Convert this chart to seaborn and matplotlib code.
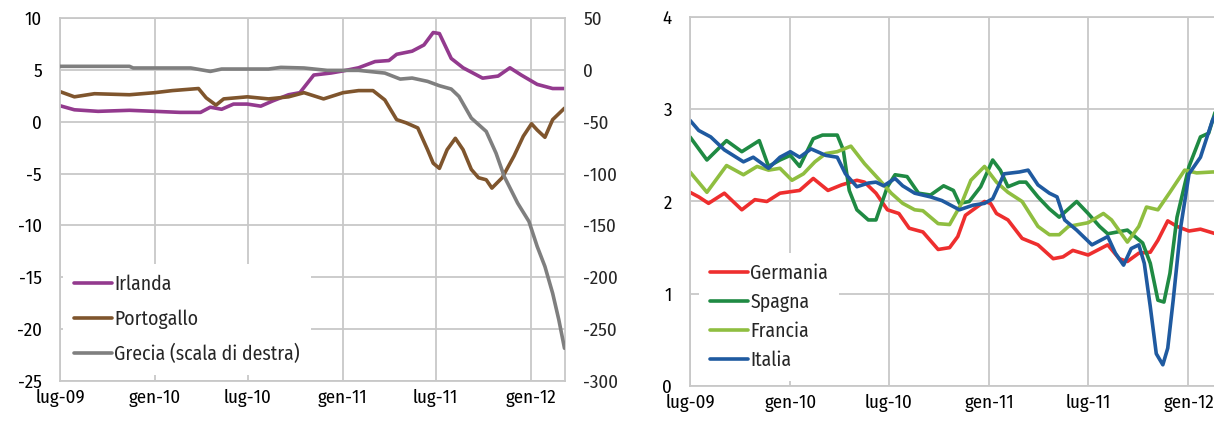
import pandas as pd
import matplotlib
matplotlib.use("Agg")
import matplotlib.pyplot as plt
import seaborn as sns
from matplotlib import font_manager

# ---- data ----
irlanda_dates = ["2009-07-01", "2009-07-29", "2009-09-13", "2009-11-13", "2010-01-01", "2010-02-19",
                 "2010-03-31", "2010-04-19", "2010-05-11", "2010-06-03", "2010-06-30", "2010-07-26",
                 "2010-08-18", "2010-09-18", "2010-10-10", "2010-11-06", "2010-12-10", "2011-01-02",
                 "2011-02-01", "2011-03-05", "2011-04-01", "2011-04-16", "2011-05-16", "2011-06-08",
                 "2011-06-26", "2011-07-08", "2011-07-31", "2011-08-23", "2011-09-30", "2011-10-30",
                 "2011-11-22", "2011-12-14", "2012-01-14", "2012-02-13", "2012-03-07"]
irlanda = [1.54, 1.15, 1.0, 1.1, 1.0, 0.9, 0.9, 1.4, 1.2, 1.7, 1.7, 1.5, 2.0, 2.6, 2.8, 4.5, 4.7, 4.9,
           5.2, 5.8, 5.9, 6.5, 6.8, 7.4, 8.6, 8.5, 6.1, 5.2, 4.2, 4.4, 5.2, 4.5, 3.6, 3.2, 3.2]

portogallo_dates = ["2009-07-01", "2009-07-29", "2009-09-06", "2009-11-13", "2010-01-01", "2010-02-04",
                    "2010-03-27", "2010-04-11", "2010-04-30", "2010-05-15", "2010-06-30", "2010-08-10",
                    "2010-09-18", "2010-10-18", "2010-11-25", "2011-01-02", "2011-02-01", "2011-03-01",
                    "2011-03-24", "2011-04-16", "2011-05-04", "2011-05-27", "2011-06-15", "2011-06-26",
                    "2011-07-08", "2011-07-23", "2011-08-08", "2011-08-23", "2011-09-08", "2011-09-22",
                    "2011-10-07", "2011-10-18", "2011-11-07", "2011-11-30", "2011-12-18", "2012-01-03",
                    "2012-01-14", "2012-01-29", "2012-02-13", "2012-03-07"]
portogallo = [2.9, 2.4, 2.7, 2.6, 2.8, 3.0, 3.2, 2.3, 1.6, 2.2, 2.4, 2.2, 2.4, 2.8, 2.2, 2.8, 3.0, 3.0,
              2.1, 0.2, -0.1, -0.6, -2.7, -4.0, -4.5, -2.7, -1.6, -2.7, -4.6, -5.4, -5.6, -6.4, -5.4,
              -3.3, -1.4, -0.2, -0.8, -1.5, 0.2, 1.3]

grecia_dates = ["2009-07-01", "2009-11-13", "2009-11-20", "2010-03-12", "2010-04-19", "2010-05-11",
                "2010-08-10", "2010-09-03", "2010-10-18", "2010-12-02", "2011-02-01", "2011-03-24",
                "2011-04-23", "2011-05-16", "2011-06-15", "2011-07-08", "2011-07-31", "2011-08-15",
                "2011-09-08", "2011-10-07", "2011-10-26", "2011-11-11", "2011-12-07", "2011-12-29",
                "2012-01-14", "2012-01-29", "2012-02-13", "2012-02-25", "2012-03-07"]
grecia = [3.4, 3.4, 1.8, 1.8, -1.5, 0.8, 0.8, 2.4, 1.8, -0.5, -0.5, -3.1, -8.9, -7.9, -11.1, -15.3,
          -18.5, -25.6, -46.5, -59.4, -80.3, -102.8, -128.5, -146.2, -170.3, -189.6, -215.4, -241.0,
          -268.4]

germania_dates = ["2009-07-01", "2009-07-17", "2009-08-04", "2009-09-02", "2009-10-04", "2009-10-28",
                  "2009-11-19", "2009-12-13", "2010-01-18", "2010-02-12", "2010-03-11", "2010-04-05",
                  "2010-05-03", "2010-05-17", "2010-06-07", "2010-06-28", "2010-07-19", "2010-08-07",
                  "2010-09-01", "2010-09-29", "2010-10-20", "2010-11-04", "2010-11-18", "2010-12-09",
                  "2010-12-23", "2011-01-03", "2011-01-14", "2011-02-04", "2011-03-02", "2011-03-31",
                  "2011-04-28", "2011-05-16", "2011-06-03", "2011-07-01", "2011-08-06", "2011-08-27",
                  "2011-09-11", "2011-10-02", "2011-10-23", "2011-11-06", "2011-11-24", "2011-12-11",
                  "2012-01-02", "2012-01-23", "2012-02-20", "2012-03-07"]
germania = [2.10, 2.05, 1.98, 2.09, 1.91, 2.02, 2.00, 2.09, 2.12, 2.25, 2.12, 2.18, 2.23, 2.21, 2.09,
            1.91, 1.87, 1.71, 1.67, 1.48, 1.50, 1.62, 1.85, 1.94, 2.00, 1.98, 1.87, 1.80, 1.60, 1.53,
            1.38, 1.40, 1.47, 1.42, 1.53, 1.38, 1.35, 1.44, 1.45, 1.58, 1.79, 1.73, 1.68, 1.70, 1.65,
            1.64]

spagna_dates = ["2009-07-01", "2009-08-01", "2009-09-06", "2009-10-04", "2009-11-05", "2009-11-22",
                "2009-12-13", "2010-01-01", "2010-01-18", "2010-02-12", "2010-03-01", "2010-03-28",
                "2010-04-08", "2010-04-19", "2010-05-03", "2010-05-24", "2010-06-07", "2010-06-28",
                "2010-07-12", "2010-08-03", "2010-08-24", "2010-09-15", "2010-10-09", "2010-10-27",
                "2010-11-07", "2010-11-25", "2010-12-16", "2011-01-07", "2011-01-21", "2011-02-04",
                "2011-02-25", "2011-03-09", "2011-03-31", "2011-04-21", "2011-05-09", "2011-06-10",
                "2011-07-01", "2011-07-22", "2011-08-06", "2011-09-11", "2011-10-09", "2011-10-23",
                "2011-11-06", "2011-11-17", "2011-11-28", "2011-12-11", "2012-01-02", "2012-01-23",
                "2012-02-07", "2012-02-20", "2012-03-07"]
spagna = [2.70, 2.45, 2.66, 2.54, 2.66, 2.38, 2.45, 2.50, 2.38, 2.68, 2.72, 2.72, 2.56, 2.12, 1.91,
          1.80, 1.80, 2.16, 2.29, 2.27, 2.09, 2.07, 2.17, 2.12, 1.98, 2.00, 2.16, 2.45, 2.34, 2.16,
          2.21, 2.21, 2.05, 1.92, 1.83, 2.00, 1.87, 1.73, 1.65, 1.69, 1.55, 1.33, 0.93, 0.91, 1.22,
          1.83, 2.38, 2.70, 2.74, 2.99, 3.2]

francia_dates = ["2009-07-01", "2009-08-01", "2009-09-06", "2009-10-07", "2009-11-01", "2009-11-22",
                 "2009-12-13", "2010-01-04", "2010-01-25", "2010-02-15", "2010-03-07", "2010-03-28",
                 "2010-04-22", "2010-05-17", "2010-06-14", "2010-07-05", "2010-07-26", "2010-08-17",
                 "2010-09-01", "2010-09-29", "2010-10-20", "2010-11-11", "2010-11-28", "2010-12-23",
                 "2011-01-14", "2011-02-04", "2011-03-02", "2011-03-31", "2011-04-21", "2011-05-09",
                 "2011-05-26", "2011-07-01", "2011-07-29", "2011-08-13", "2011-09-11", "2011-10-02",
                 "2011-10-16", "2011-11-06", "2011-11-28", "2011-12-25", "2012-01-16", "2012-02-14",
                 "2012-03-07"]
francia = [2.32, 2.10, 2.39, 2.29, 2.38, 2.34, 2.36, 2.23, 2.30, 2.43, 2.52, 2.54, 2.60, 2.41, 2.23,
           2.09, 1.98, 1.91, 1.90, 1.76, 1.75, 1.98, 2.23, 2.38, 2.21, 2.10, 2.00, 1.73, 1.64, 1.64,
           1.73, 1.77, 1.87, 1.80, 1.56, 1.73, 1.94, 1.91, 2.10, 2.34, 2.31, 2.32, 2.32]

italia_dates = ["2009-07-01", "2009-07-17", "2009-08-08", "2009-09-02", "2009-10-07", "2009-10-25",
                "2009-11-22", "2009-12-13", "2010-01-01", "2010-01-18", "2010-02-08", "2010-03-07",
                "2010-03-28", "2010-04-12", "2010-05-03", "2010-05-24", "2010-06-07", "2010-06-21",
                "2010-07-12", "2010-07-26", "2010-08-17", "2010-09-15", "2010-10-06", "2010-11-07",
                "2010-12-02", "2010-12-23", "2011-01-07", "2011-01-28", "2011-02-25", "2011-03-13",
                "2011-03-31", "2011-04-21", "2011-05-05", "2011-05-19", "2011-06-10", "2011-07-08",
                "2011-08-06", "2011-08-20", "2011-09-04", "2011-09-18", "2011-10-02", "2011-10-12",
                "2011-10-23", "2011-11-03", "2011-11-15", "2011-11-24", "2011-12-04", "2011-12-18",
                "2012-01-02", "2012-01-23", "2012-02-14", "2012-03-07"]
italia = [2.88, 2.77, 2.70, 2.56, 2.43, 2.48, 2.36, 2.48, 2.54, 2.48, 2.57, 2.50, 2.48, 2.30, 2.16,
          2.20, 2.21, 2.17, 2.25, 2.17, 2.09, 2.05, 2.01, 1.91, 1.96, 1.98, 2.03, 2.30, 2.32, 2.34,
          2.18, 2.09, 2.05, 1.80, 1.69, 1.53, 1.62, 1.44, 1.31, 1.49, 1.53, 1.33, 0.86, 0.35, 0.23,
          0.41, 0.93, 1.73, 2.30, 2.48, 2.88, 3.1]

tick_dates = ["2009-07-01", "2010-01-01", "2010-07-01", "2011-01-01", "2011-07-01", "2012-01-01"]
tick_labels = ["lug-09", "gen-10", "lug-10", "gen-11", "lug-11", "gen-12"]

# colours
C_IRL = "#933A8E"
C_POR = "#7F552D"
C_GRE = "#7F7F7F"
C_GER = "#EE2E2E"
C_SPA = "#1F8A43"
C_FRA = "#8FBE40"
C_ITA = "#1F5AA0"
GRID = "#C8C8C8"

sns.set_style("white")
names = {f.name for f in font_manager.fontManager.ttflist}
prefs = ["Fira Sans Condensed", "PT Sans Narrow", "Roboto Condensed", "Open Sans Condensed",
         "Liberation Sans Narrow", "Archivo Narrow", "Encode Sans Condensed", "IBM Plex Sans Condensed"]
fam = [p for p in prefs if p in names][:1]
plt.rcParams["font.family"] = fam + ["DejaVu Sans"]
plt.rcParams["axes.unicode_minus"] = False

TICK_FS = 13.6
LEG_FS = 14.2

W, H = 1214, 423
fig = plt.figure(figsize=(W / 100, H / 100), dpi=100)

xmin = pd.Timestamp("2009-07-01")
xmax = pd.Timestamp("2012-03-08")


def style_axis(ax):
    ax.grid(True, color=GRID, lw=1.3)
    for s in ax.spines.values():
        s.set_color(GRID)
        s.set_linewidth(1.3)
    ax.set_xticks(pd.to_datetime(tick_dates))
    ax.set_xticklabels(tick_labels)
    ax.set_xlim(xmin, xmax)
    ax.tick_params(axis="both", length=0, labelsize=TICK_FS, colors="black")
    ax.tick_params(axis="x", pad=6.0)
    ax.tick_params(axis="y", pad=13.0)
    ax.set_xlabel("")
    ax.set_ylabel("")


# ---- left panel ----
ax1 = fig.add_axes([60 / W, (H - 381) / H, 505 / W, 363 / H])
lw = 2.6
sns.lineplot(x=pd.to_datetime(irlanda_dates), y=irlanda, ax=ax1, color=C_IRL, lw=lw)
sns.lineplot(x=pd.to_datetime(portogallo_dates), y=portogallo, ax=ax1, color=C_POR, lw=lw)
ax1.set_ylim(-25, 10)
ax1.set_yticks(range(-25, 11, 5))
style_axis(ax1)

ax1r = ax1.twinx()
sns.lineplot(x=pd.to_datetime(grecia_dates), y=grecia, ax=ax1r, color=C_GRE, lw=lw)
ax1r.set_ylim(-300, 50)
ax1r.set_yticks(range(-300, 51, 50))
ax1r.grid(False)
for s in ax1r.spines.values():
    s.set_visible(False)
ax1r.tick_params(axis="y", length=0, labelsize=TICK_FS, pad=13.0)
ax1r.set_ylabel("")
ax1r.set_xlim(xmin, xmax)

handles = [ax1.lines[0], ax1.lines[1], ax1r.lines[0]]
leg1 = ax1r.legend(handles, ["Irlanda", "Portogallo", "Grecia (scala di destra)"],
                   loc="lower left", bbox_to_anchor=(0.006, 0.016), fontsize=LEG_FS,
                   frameon=True, fancybox=False, framealpha=1, edgecolor="none",
                   facecolor="white", handlelength=1.95, handletextpad=0.1,
                   labelspacing=0.78, borderpad=0.55, borderaxespad=0)

# ---- right panel ----
right_w = 535
ax2 = fig.add_axes([690 / W, (H - 386) / H, right_w / W, 369 / H])
sns.lineplot(x=pd.to_datetime(germania_dates), y=germania, ax=ax2, color=C_GER, lw=lw, label="Germania")
sns.lineplot(x=pd.to_datetime(spagna_dates), y=spagna, ax=ax2, color=C_SPA, lw=lw, label="Spagna")
sns.lineplot(x=pd.to_datetime(francia_dates), y=francia, ax=ax2, color=C_FRA, lw=lw, label="Francia")
sns.lineplot(x=pd.to_datetime(italia_dates), y=italia, ax=ax2, color=C_ITA, lw=lw, label="Italia")
ax2.set_ylim(0, 4)
ax2.set_yticks(range(0, 5))
style_axis(ax2)
leg2 = ax2.legend(loc="lower left", bbox_to_anchor=(0.017, 0.014), fontsize=LEG_FS,
                  frameon=True, fancybox=False, framealpha=1, edgecolor="none",
                  facecolor="white", handlelength=1.95, handletextpad=0.1,
                  labelspacing=0.48, borderpad=0.55, borderaxespad=0)

fig.savefig("out.png", dpi=100)
